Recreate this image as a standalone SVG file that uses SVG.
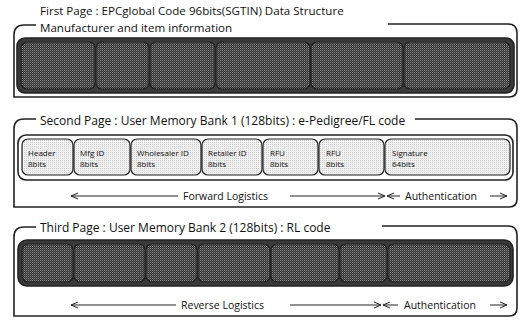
<svg xmlns="http://www.w3.org/2000/svg" width="521" height="327" viewBox="0 0 521 327">
<defs>
<marker id="ah" viewBox="0 0 8 8" refX="7" refY="4" markerWidth="8" markerHeight="8" orient="auto-start-reverse" markerUnits="userSpaceOnUse">
<path d="M0,1 L7,4 L0,7" fill="none" stroke="#222" stroke-width="1"/>
</marker>
<pattern id="dk" width="2" height="2" patternUnits="userSpaceOnUse">
<rect width="2" height="2" fill="#333"/>
<rect width="1" height="1" fill="#8a8a8a"/>
<rect x="1" y="1" width="1" height="1" fill="#555"/>
</pattern>
<pattern id="lt" width="2" height="2" patternUnits="userSpaceOnUse">
<rect width="2" height="2" fill="#f2f2f2"/>
<rect width="1" height="1" fill="#cacaca"/>
</pattern>
</defs>
<style>
text{font-family:"Open Sans","Noto Sans","DejaVu Sans",sans-serif;fill:#111}
.t{font-size:12px}
.t1{font-size:11.6px}
.s{font-size:8px}
.a{font-size:10.5px}
.br{fill:none;stroke:#222;stroke-width:1.6}
.outer{stroke:#222;stroke-width:1.6}
.cellD{fill:url(#dk);stroke:#222;stroke-width:1.2}
.cellL{fill:url(#lt);stroke:#222;stroke-width:1.2}
.ar{fill:none;stroke:#222;stroke-width:1}
</style>
<rect width="521" height="327" fill="#fff"/>

<g id="page1">
<path class="br" d="M36,25 L24,25 Q14,25 14,35 L14,97 L509,97 Q517,97 517,89 L517,33 Q517,24 508,24 L388,24"/>
<text class="t1" x="40" y="14.5">First Page : EPCglobal Code 96bits(SGTIN) Data Structure</text>
<text class="t1" x="40" y="31.5">Manufacturer and item information</text>
<rect class="outer" x="17" y="38" width="497" height="55" rx="8" fill="#3a3a3a"/>
<g id="p1c1"><rect class="cellD" x="21" y="42" width="74" height="47" rx="6"/></g>
<g id="p1c2"><rect class="cellD" x="96" y="42" width="53" height="47" rx="6"/></g>
<g id="p1c3"><rect class="cellD" x="150" y="42" width="65" height="47" rx="6"/></g>
<g id="p1c4"><rect class="cellD" x="216" y="42" width="94" height="47" rx="6"/></g>
<g id="p1c5"><rect class="cellD" x="311" y="42" width="92" height="47" rx="6"/></g>
<g id="p1c6"><rect class="cellD" x="404" y="42" width="106" height="47" rx="6"/></g>
</g>

<g id="page2">
<path class="br" d="M36,119 L24,119 Q14,119 14,129 L14,207 L509,207 Q517,207 517,199 L517,128 Q517,119 508,119 L415,119"/>
<text class="t" x="40" y="125">Second Page : User Memory Bank 1 (128bits) : e-Pedigree/FL code</text>
<rect class="outer" x="18" y="135" width="495" height="45" rx="8" fill="#fff"/>
<g id="p2c1"><rect class="cellL" x="22" y="139" width="51" height="36" rx="6"/><text class="s" x="28" y="156">Header</text><text class="s" x="28" y="167">8bits</text></g>
<g id="p2c2"><rect class="cellL" x="74" y="139" width="56" height="36" rx="6"/><text class="s" x="80" y="156">Mfg ID</text><text class="s" x="80" y="167">8bits</text></g>
<g id="p2c3"><rect class="cellL" x="131" y="139" width="70" height="36" rx="6"/><text class="s" x="137" y="156">Wholesaler ID</text><text class="s" x="137" y="167">8bits</text></g>
<g id="p2c4"><rect class="cellL" x="202" y="139" width="60" height="36" rx="6"/><text class="s" x="208" y="156">Retailer ID</text><text class="s" x="208" y="167">8bits</text></g>
<g id="p2c5"><rect class="cellL" x="263" y="139" width="55" height="36" rx="6"/><text class="s" x="270" y="156">RFU</text><text class="s" x="270" y="167">8bits</text></g>
<g id="p2c6"><rect class="cellL" x="319" y="139" width="65" height="36" rx="6"/><text class="s" x="326" y="156">RFU</text><text class="s" x="326" y="167">8bits</text></g>
<g id="p2c7"><rect class="cellL" x="385" y="139" width="125" height="36" rx="6"/><text class="s" x="392" y="156">Signature</text><text class="s" x="392" y="167">64bits</text></g>
<text class="a" x="183" y="200">Forward Logistics</text>
<text class="a" x="405" y="200">Authentication</text>
</g>

<g id="page3">
<path class="br" d="M36,227 L24,227 Q14,227 14,237 L14,316 L509,316 Q517,316 517,308 L517,235 Q517,226 508,226 L382,226"/>
<text class="t" x="40" y="232">Third Page : User Memory Bank 2 (128bits) : RL code</text>
<rect class="outer" x="18" y="240" width="495" height="46" rx="9" fill="#3a3a3a"/>
<g id="p3c1"><rect class="cellD" x="22" y="244" width="51" height="38" rx="6"/></g>
<g id="p3c2"><rect class="cellD" x="74" y="244" width="71" height="38" rx="6"/></g>
<g id="p3c3"><rect class="cellD" x="146" y="244" width="51" height="38" rx="6"/></g>
<g id="p3c4"><rect class="cellD" x="198" y="244" width="72" height="38" rx="6"/></g>
<g id="p3c5"><rect class="cellD" x="271" y="244" width="68" height="38" rx="6"/></g>
<g id="p3c6"><rect class="cellD" x="340" y="244" width="47" height="38" rx="6"/></g>
<g id="p3c7"><rect class="cellD" x="388" y="244" width="122" height="38" rx="6"/></g>
<text class="a" x="181" y="309">Reverse Logistics</text>
<text class="a" x="404" y="309">Authentication</text>
</g>

<g id="connectors">
<line class="ar" x1="178" y1="196" x2="71" y2="196" marker-end="url(#ah)"/>
<line class="ar" x1="290" y1="196" x2="385" y2="196" marker-end="url(#ah)"/>
<line class="ar" x1="400" y1="196" x2="387" y2="196" marker-end="url(#ah)"/>
<line class="ar" x1="490" y1="196" x2="507" y2="196" marker-end="url(#ah)"/>
<line class="ar" x1="176" y1="305" x2="71" y2="305" marker-end="url(#ah)"/>
<line class="ar" x1="290" y1="305" x2="381" y2="305" marker-end="url(#ah)"/>
<line class="ar" x1="398" y1="305" x2="383" y2="305" marker-end="url(#ah)"/>
<line class="ar" x1="490" y1="305" x2="507" y2="305" marker-end="url(#ah)"/>
</g>
</svg>
